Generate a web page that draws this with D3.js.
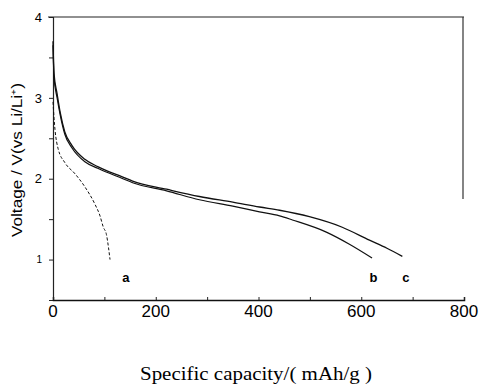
<!DOCTYPE html>
<html>
<head>
<meta charset="utf-8">
<script src="https://cdn.jsdelivr.net/npm/d3@7"></script>
<style>
  body { margin: 0; background: #fff; }
  svg { display: block; }
</style>
</head>
<body>
<svg id="chart" width="482" height="389"></svg>
<script>
// capacity (mAh/g) and voltage (V)
const capA = [0, 2, 4, 10, 23, 43, 62, 82, 91, 98, 104, 108, 111]
const voltA = [2.95, 2.75, 2.6, 2.37, 2.2, 2.06, 1.9, 1.68, 1.55, 1.4, 1.31, 1.15, 1.0]

const capB = [0, 2, 8, 14, 23, 37, 62, 87, 136, 155, 221, 285, 350, 402, 441, 466, 532, 577, 621]
const voltB = [3.65, 3.25, 3.0, 2.79, 2.55, 2.38, 2.21, 2.13, 2.0, 1.95, 1.85, 1.74, 1.66, 1.59, 1.54, 1.49, 1.34, 1.19, 1.02]

const capC = [0, 2, 8, 14, 23, 37, 62, 87, 136, 155, 221, 285, 350, 402, 441, 499, 563, 616, 650, 680]
const voltC = [3.7, 3.3, 3.05, 2.82, 2.58, 2.41, 2.24, 2.15, 2.02, 1.97, 1.87, 1.78, 1.71, 1.65, 1.61, 1.53, 1.40, 1.24, 1.14, 1.04]

const xTicks = [0, 200, 400, 600, 800]
const yTicks = [1, 2, 3, 4]

const margin = { top: 17, left: 53 },
  width = 411,
  height = 283

const svg = d3.select("#chart")
const g = svg.append("g").attr("transform", `translate(${margin.left},${margin.top})`)

const x = d3.scaleLinear().domain([0, 800]).range([0, width])
const y = d3.scaleLinear().domain([0.5, 4]).range([height, 0])

// frame: top and part of the right side
g.append("line").attr("x1", -5).attr("x2", width).attr("y1", 0).attr("y2", 0)
  .attr("stroke", "#222").attr("stroke-width", 1.2)
g.append("line").attr("x1", width - 1).attr("x2", width - 1).attr("y1", 0).attr("y2", y(1.75))
  .attr("stroke", "#333").attr("stroke-width", 1.2)

// y axis
const yAxis = g.append("g")
  .call(d3.axisLeft(y).tickValues(d3.range(1, 4.01, 0.5)).tickSize(4).tickFormat(""))
yAxis.select(".domain").attr("stroke", "#222").attr("stroke-width", 1.2)
yAxis.selectAll(".tick line").attr("stroke", "#222")

g.selectAll(".ylab").data(yTicks).join("text").attr("class", "ylab")
  .attr("x", -11).attr("y", d => y(d)).attr("dy", "0.36em")
  .attr("text-anchor", "end")
  .attr("font-family", "Liberation Sans, Arial, sans-serif")
  .attr("font-size", d => d === 1 ? 10 : 13)
  .text(d => d)

// x axis
const xAxis = g.append("g").attr("transform", `translate(0,${height})`)
  .call(d3.axisBottom(x).tickValues(d3.range(0, 801, 100)).tickSize(-3).tickFormat(""))
xAxis.select(".domain").attr("stroke", "#111").attr("stroke-width", 1.5)
xAxis.selectAll(".tick line").attr("stroke", "#222")

g.selectAll(".xlab").data(xTicks).join("text").attr("class", "xlab")
  .attr("x", d => x(d)).attr("y", height + 17)
  .attr("text-anchor", "middle")
  .attr("font-family", "Liberation Sans, Arial, sans-serif")
  .attr("font-size", 17)
  .text(d => d)

// curves
const line = d3.line().x(d => x(d[0])).y(d => y(d[1])).curve(d3.curveMonotoneX)
const series = [
  { key: "a", pts: d3.zip(capA, voltA), dash: "3,2", w: 1 },
  { key: "b", pts: d3.zip(capB, voltB), dash: null, w: 1.2 },
  { key: "c", pts: d3.zip(capC, voltC), dash: null, w: 1.3 }
]
g.selectAll(".curve").data(series).join("path").attr("class", "curve")
  .attr("d", d => line(d.pts))
  .attr("fill", "none")
  .attr("stroke", "#111")
  .attr("stroke-width", d => d.w)
  .attr("stroke-dasharray", d => d.dash)

// curve labels
const tags = [["a", 142], ["b", 624], ["c", 687]]
g.selectAll(".tag").data(tags).join("text").attr("class", "tag")
  .attr("x", d => x(d[1])).attr("y", y(0.72))
  .attr("text-anchor", "middle")
  .attr("font-family", "Liberation Sans, Arial, sans-serif")
  .attr("font-size", 13).attr("font-weight", "bold")
  .text(d => d[0])

// axis titles
svg.append("text")
  .attr("transform", "translate(22,160) rotate(-90)")
  .attr("text-anchor", "middle")
  .attr("font-family", "Liberation Sans, Arial, sans-serif")
  .attr("font-size", 14)
  .attr("textLength", 154).attr("lengthAdjust", "spacingAndGlyphs")
  .text("Voltage / V(vs Li/Li⁺)")

svg.append("text")
  .attr("x", 256).attr("y", 380)
  .attr("text-anchor", "middle")
  .attr("font-family", "Liberation Serif, Times New Roman, serif")
  .attr("font-size", 19)
  .attr("textLength", 232).attr("lengthAdjust", "spacingAndGlyphs")
  .text("Specific capacity/( mAh/g )")
</script>
</body>
</html>
